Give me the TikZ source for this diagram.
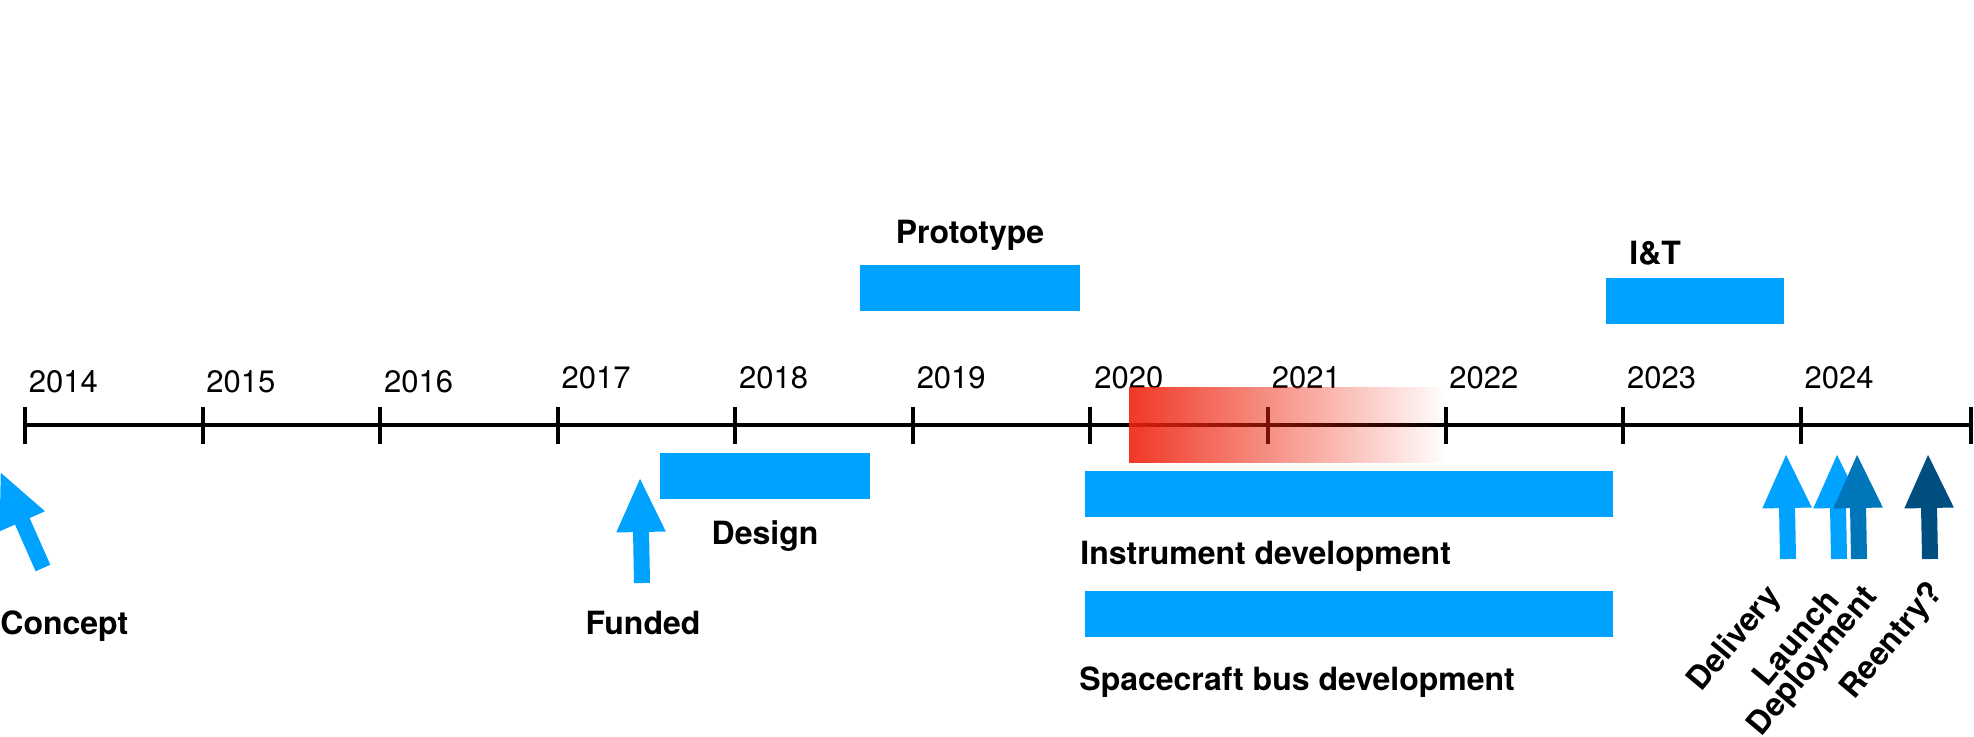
\documentclass[tikz,border=0pt]{standalone}
\usepackage{fontspec}
\setmainfont{TeX Gyre Heros}
\usetikzlibrary{arrows.meta}
\usetikzlibrary{fadings}

\definecolor{keyblue}{HTML}{00A2FF}
\definecolor{midblue}{HTML}{0076BA}
\definecolor{deepblue}{HTML}{004D80}
\definecolor{keyred}{HTML}{EE220C}

\tikzfading[name=fade out east, left color=transparent!10, right color=transparent!100]

\tikzset{
  phase/.style={fill=keyblue},
  yearlbl/.style={anchor=base west, inner sep=0pt, font=\fontsize{15.5}{18}\selectfont},
  tag/.style={inner sep=0pt, font=\bfseries\fontsize{16}{19}\selectfont},
  milestone/.style={line width=8pt, -{Triangle[length=27.5pt, width=22.5pt]}},
}

\begin{document}
\begin{tikzpicture}[x=0.5pt, y=-0.5pt]
    \useasboundingbox (0, 0) rectangle (1974, 736);

    % time axis with yearly ticks
    \draw [line width=2pt] (23, 425) -- (1971, 425);
    \foreach \yr [count=\i from 0] in {2014,...,2024} {
      \pgfmathsetmacro\tx{25 + 177.57*\i}
      \pgfmathsetmacro\ty{\i < 3 ? 392 : 388}
      \draw [line width=2pt] (\tx, 407) -- (\tx, 444);
      \node[yearlbl] (y\yr) at (\tx + 3.5, \ty) {\yr};
    }
    \draw [line width=2pt] (1970.7, 407) -- (1970.7, 444);

    % phases
    \fill [phase] (860, 265) rectangle (1080, 311);
    \node[tag, anchor=base] (proto) at (970, 243) {Prototype};

    \fill [phase] (660, 453) rectangle (870, 499);
    \node[tag, anchor=base] (design) at (765, 544) {Design};

    \fill [phase] (1606, 278) rectangle (1784, 324);
    \node[tag, anchor=base west] (it) at (1629, 264) {I\&T};

    \fill [phase] (1085, 471) rectangle (1613, 517);
    \node[tag, anchor=base west] (instr) at (1080, 564) {Instrument development};

    \fill [phase] (1085, 591) rectangle (1613, 637);
    \node[tag, anchor=base west] (bus) at (1079, 690) {Spacecraft bus development};

    % fading red band over the axis
    \fill [keyred, path fading=fade out east] (1129, 387) rectangle (1447, 463);

    % milestones
    \draw [milestone, keyblue] (43, 568) -- (0, 471);
    \node[tag, anchor=base west] (concept) at (0, 634) {Concept};

    \draw [milestone, keyblue] (642, 583) -- (640, 477);
    \node[tag, anchor=base] (funded) at (643, 634) {Funded};

    \draw [milestone, keyblue] (1788, 559) -- (1786, 453);
    \draw [milestone, keyblue] (1839, 559) -- (1837, 453);
    \draw [milestone, midblue] (1859, 559) -- (1857, 453);
    \draw [milestone, deepblue] (1930, 559) -- (1928, 453);

    \node[tag, rotate=50, anchor=base east] (delivery) at (1782, 597) {Delivery};
    \node[tag, rotate=50, anchor=base east] (launch) at (1841, 601) {Launch};
    \node[tag, rotate=50, anchor=base east] (deploy) at (1879, 597) {Deployment};
    \node[tag, rotate=50, anchor=base east] (reentry) at (1944, 593) {Reentry?};
\end{tikzpicture}
\end{document}
